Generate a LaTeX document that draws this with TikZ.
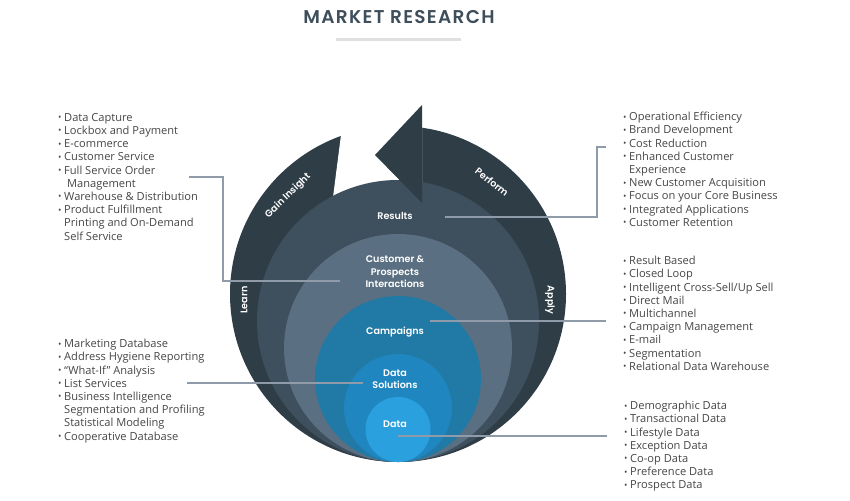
\documentclass[tikz,border=0pt]{standalone}
\usepackage{fontspec}
\setmainfont{Open Sans}
\newfontfamily\headfont{Poppins SemiBold}[LetterSpace=7]
\newfontfamily\labelfont{Poppins SemiBold}
\usetikzlibrary{positioning}

\definecolor{ringdark}{HTML}{2F3D47}
\definecolor{resultsc}{HTML}{3E4F5D}
\definecolor{customerc}{HTML}{5A6F81}
\definecolor{campaignc}{HTML}{217AA5}
\definecolor{solutionc}{HTML}{1F86C0}
\definecolor{datac}{HTML}{2BA0DE}
\definecolor{linkc}{HTML}{8F9BA8}
\definecolor{listc}{HTML}{454545}
\definecolor{titlec}{HTML}{3E4E5B}
\definecolor{barc}{HTML}{E2E0DE}

\newcommand{\bul}{\makebox[0pt][r]{\raisebox{0.6pt}{\fontsize{9}{9}\selectfont •}\hspace{2.6pt}}}

\tikzset{
  disc/.style={circle, inner sep=0pt, outer sep=0pt, minimum size=#1},
  layer/.style={font=\labelfont\fontsize{9.6}{12.5}\selectfont, text=white, align=center, inner sep=0pt},
  ringtext/.style={font=\labelfont\fontsize{9.6}{10}\selectfont, text=white, inner sep=0pt},
  itemlist/.style={font=\fontsize{11.1}{13.2}\selectfont, text=listc, align=left, inner sep=0pt, anchor=north west},
  link/.style={draw=linkc, line width=2.6pt},
}

\begin{document}
\begin{tikzpicture}[x=1pt, y=-1pt]
\useasboundingbox (0,0) rectangle (850,500);

% title
\node[font=\headfont\fontsize{18.5}{20}\selectfont, text=titlec] (title) at (399,17) {MARKET RESEARCH};
\fill[barc] (336,38.5) rectangle (461,41.5);

% cycle ring and gap
\node[disc=336pt, fill=ringdark] (ring) at (398,294) {};
\fill[white] (345.5,100) -- (332,205) -- (422,205) -- (422,100) -- cycle;

% layers
\node[disc=282pt, fill=resultsc] (results) at (398,321) {};
\node[disc=228pt, fill=customerc] (customer) at (398,348) {};
\node[disc=166pt, fill=campaignc] (campaigns) at (398,379) {};
\node[disc=108pt, fill=solutionc] (solutions) at (398,408) {};
\node[disc=65pt, fill=datac] (data) at (398,429.5) {};

% arrow head
\fill[ringdark] (375,155) -- (422,105) -- (422,203) -- cycle;

% ring labels
\node[ringtext, rotate=44] (gain) at (288,196) {Gain Insight};
\node[ringtext, rotate=-38] (perform) at (492,182) {Perform};
\node[ringtext, rotate=90] (learn) at (244,300) {Learn};
\node[ringtext, rotate=-90] (apply) at (550,300) {Apply};

% layer labels
\node[layer] (resultslbl) at (395,216) {Results};
\node[layer] (customerlbl) at (395,272) {Customer \&\\Prospects\\Interactions};
\node[layer] (campaignslbl) at (395,332) {Campaigns};
\node[layer] (solutionslbl) at (395,379) {Data\\Solutions};
\node[layer] (datalbl) at (395,424) {Data};

% lists
\node[itemlist] (insightlist) at (64,113) {\bul Data Capture\\
\bul Lockbox and Payment\\
\bul E-commerce\\
\bul Customer Service\\
\bul Full Service Order\\
\ Management\\
\bul Warehouse \& Distribution\\
\bul Product Fulfillment\\
Printing and On-Demand\\
Self Service};

\node[itemlist] (performlist) at (629,112) {\bul Operational Efficiency\\
\bul Brand Development\\
\bul Cost Reduction\\
\bul Enhanced Customer\\
Experience\\
\bul New Customer Acquisition\\
\bul Focus on your Core Business\\
\bul Integrated Applications\\
\bul Customer Retention};

\node[itemlist] (campaignlist) at (629,256) {\bul Result Based\\
\bul Closed Loop\\
\bul Intelligent Cross-Sell/Up Sell\\
\bul Direct Mail\\
\bul Multichannel\\
\bul Campaign Management\\
\bul E-mail\\
\bul Segmentation\\
\bul Relational Data Warehouse};

\node[itemlist] (solutionlist) at (64,339) {\bul Marketing Database\\
\bul Address Hygiene Reporting\\
\bul “What-If” Analysis\\
\bul List Services\\
\bul Business Intelligence\\
Segmentation and Profiling\\
Statistical Modeling\\
\bul Cooperative Database};

\node[itemlist] (datalist) at (630,401) {\bul Demographic Data\\
\bul Transactional Data\\
\bul Lifestyle Data\\
\bul Exception Data\\
\bul Co-op Data\\
\bul Preference Data\\
\bul Prospect Data};

% connectors
\coordinate (resultsdot) at (445,217);
\coordinate (resultsend) at (606,147);
\coordinate (customerdot) at (340,281);
\coordinate (customerend) at (189,177);
\coordinate (campaignsdot) at (430,321);
\coordinate (campaignsend) at (606,321);
\coordinate (solutionsdot) at (363,383);
\coordinate (solutionsend) at (187,383);
\coordinate (datadot) at (398,436);
\coordinate (dataend) at (607,436);

\draw[link] (resultsdot) -| ([xshift=-9pt]resultsend) -- (resultsend);
\draw[link] (customerdot) -| ([xshift=34pt]customerend) -- (customerend);
\draw[link] (campaignsdot) -- (campaignsend);
\draw[link] (solutionsdot) -- (solutionsend);
\draw[link] (datadot) -- (dataend);
\end{tikzpicture}
\end{document}
